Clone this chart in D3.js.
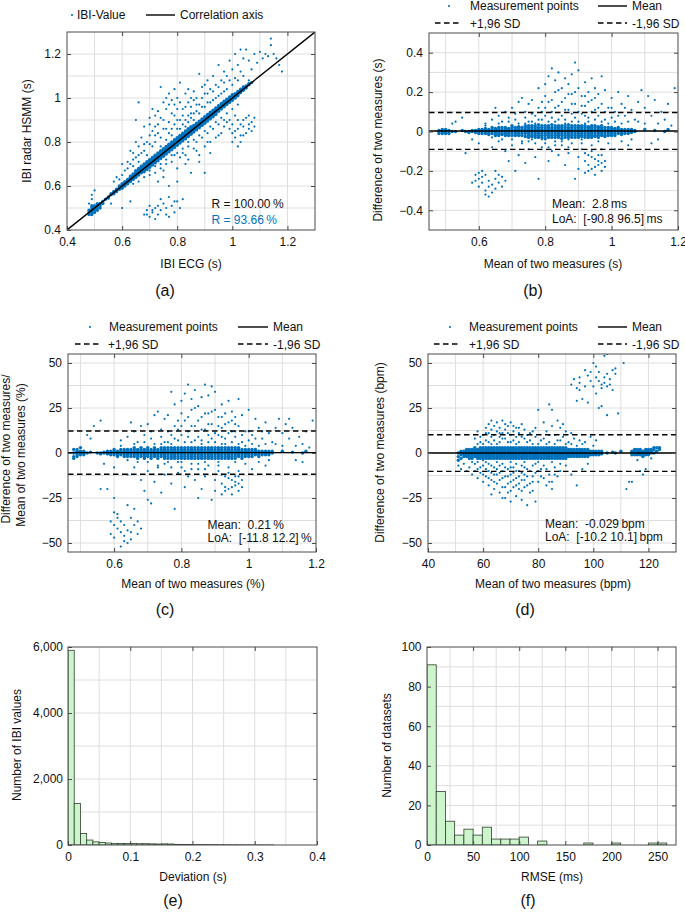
<!DOCTYPE html>
<html><head><meta charset="utf-8">
<script src="https://cdn.jsdelivr.net/npm/d3@7"></script>
<style>
body{margin:0;background:#fff}
svg{display:block;font-family:"Liberation Sans",Arial,sans-serif}
text{white-space:pre}
</style>
</head><body>
<script>
// ================= DATA =================
// (a) correlation plot: IBI ECG (x) vs IBI radar HSMM (y); core rows = [x, y1, y2, ...]
const aCore=[
[0.48,0.47,0.48,0.49],[0.49,0.48,0.49,0.50,0.47,0.51],[0.50,0.49,0.50,0.51,0.48],[0.51,0.50,0.51,0.49,0.52],[0.52,0.51,0.52,0.50],
[0.53,0.53,0.52],[0.54,0.54],[0.55,0.55,0.545],[0.56,0.56,0.565],[0.57,0.57,0.575,0.565],[0.58,0.58,0.585,0.575],
[0.59,0.59,0.595,0.585,0.60],[0.60,0.60,0.605,0.595,0.61,0.59],[0.61,0.61,0.615,0.605,0.62,0.60],[0.62,0.62,0.625,0.615,0.63,0.61],
[0.63,0.63,0.635,0.625,0.64,0.62,0.645],[0.64,0.64,0.645,0.635,0.65,0.63,0.655],[0.65,0.65,0.655,0.645,0.66,0.64,0.665,0.67],
[0.66,0.66,0.665,0.655,0.67,0.65,0.675,0.68],[0.67,0.67,0.675,0.665,0.68,0.66,0.685,0.69],[0.68,0.68,0.685,0.675,0.69,0.67,0.695,0.70,0.665],
[0.69,0.69,0.695,0.685,0.70,0.68,0.705,0.71,0.675],[0.70,0.70,0.705,0.695,0.71,0.69,0.715,0.72,0.685],[0.71,0.71,0.715,0.705,0.72,0.70,0.725,0.73,0.695],
[0.72,0.72,0.725,0.715,0.73,0.71,0.735,0.74,0.705],[0.73,0.73,0.735,0.725,0.74,0.72,0.745,0.75,0.715],[0.74,0.74,0.745,0.735,0.75,0.73,0.755,0.76,0.725],
[0.75,0.75,0.755,0.745,0.76,0.74,0.765,0.77,0.735],[0.76,0.76,0.765,0.755,0.77,0.75,0.775,0.78,0.745],[0.77,0.77,0.775,0.765,0.78,0.76,0.785,0.79,0.755],
[0.78,0.78,0.785,0.775,0.79,0.77,0.795,0.80,0.765],[0.79,0.79,0.795,0.785,0.80,0.78,0.805,0.81,0.775],[0.80,0.80,0.805,0.795,0.81,0.79,0.815,0.82,0.785],
[0.81,0.81,0.815,0.805,0.82,0.80,0.825,0.83,0.795],[0.82,0.82,0.825,0.815,0.83,0.81,0.835,0.805,0.84],[0.83,0.83,0.835,0.825,0.84,0.82,0.845,0.815,0.85],
[0.84,0.84,0.845,0.835,0.85,0.83,0.855,0.825,0.86],[0.85,0.85,0.855,0.845,0.86,0.84,0.865,0.835,0.87],[0.86,0.86,0.865,0.855,0.87,0.85,0.875,0.845],
[0.87,0.87,0.875,0.865,0.88,0.86,0.885,0.855],[0.88,0.88,0.885,0.875,0.89,0.87,0.895,0.865],[0.89,0.89,0.895,0.885,0.90,0.88,0.905,0.875],
[0.90,0.90,0.905,0.895,0.91,0.89,0.915,0.885],[0.91,0.91,0.915,0.905,0.92,0.90,0.925,0.895],[0.92,0.92,0.925,0.915,0.93,0.91,0.935,0.905],
[0.93,0.93,0.935,0.925,0.94,0.92,0.945,0.915],[0.94,0.94,0.945,0.935,0.95,0.93,0.955,0.925],[0.95,0.95,0.955,0.945,0.96,0.94,0.965],
[0.96,0.96,0.965,0.955,0.97,0.95,0.975],[0.97,0.97,0.975,0.965,0.98,0.96,0.985],[0.98,0.98,0.985,0.975,0.99,0.97,0.995],
[0.99,0.99,0.995,0.985,1.00,0.98,1.005],[1.00,1.00,1.005,0.995,1.01,0.99,1.015],[1.01,1.01,1.015,1.005,1.02,1.00],
[1.02,1.02,1.025,1.015,1.03,1.01],[1.03,1.03,1.035,1.025,1.04],[1.04,1.04,1.045,1.035,1.05],[1.05,1.05,1.055,1.045],[1.06,1.06,1.065],[1.07,1.07]];
const aSparse=[
[0.49,0.54],[0.49,0.56],[0.50,0.58],[0.48,0.52],[0.53,0.52],
[0.64,0.72],[0.62,0.71],[0.63,0.76],[0.65,0.80],[0.66,0.78],[0.64,0.69],[0.66,0.74],[0.67,0.82],[0.68,0.76],[0.69,0.80],[0.66,0.98],[0.65,0.90],
[0.70,0.88],[0.71,0.85],[0.72,0.92],[0.73,0.88],[0.74,1.05],[0.75,0.98],[0.75,0.90],[0.76,0.95],[0.77,1.02],[0.78,0.86],[0.78,0.93],[0.79,0.97],
[0.80,1.00],[0.80,0.90],[0.81,1.07],[0.82,0.95],[0.82,0.88],[0.83,1.02],[0.84,0.92],[0.84,0.98],[0.85,0.96],[0.86,1.03],[0.86,0.93],[0.87,1.00],
[0.88,1.11],[0.88,0.97],[0.89,1.05],[0.90,1.02],[0.91,1.08],[0.92,1.04],[0.93,1.10],[0.94,1.06],[0.95,1.15],[0.96,1.08],[0.97,1.12],[0.98,1.10],
[0.99,1.17],[1.00,1.13],[1.01,1.20],[1.02,1.15],[1.03,1.22],[1.04,1.18],[1.05,1.22],[1.06,1.17],[1.07,1.13],[1.08,1.20],[1.09,1.16],[1.10,1.21],
[1.11,1.18],[1.12,1.20],[1.14,1.27],[1.14,1.24],[1.15,1.20],[1.16,1.18],[1.17,1.15],[1.18,1.12],[1.13,1.19],[1.04,1.10],[1.06,1.08],
[0.70,0.79],[0.72,0.83],[0.74,0.82],[0.76,0.86],[0.77,0.84],[0.79,0.88],[0.81,0.86],[0.83,0.90],[0.85,0.91],[0.87,0.94],[0.89,0.96],[0.91,0.98],
[0.93,0.99],[0.95,1.01],[0.97,1.03],[0.73,0.94],[0.70,0.91],[0.68,0.87],[0.77,0.97],[0.79,1.04],[0.84,1.04],[0.86,0.99],[0.61,0.67],[0.60,0.65],
[0.58,0.64],[0.57,0.62],[0.56,0.52],[0.60,0.50],[0.63,0.53],
[0.62,0.68],[0.63,0.70],[0.65,0.73],[0.67,0.75],[0.68,0.79],[0.69,0.74],[0.70,0.83],[0.71,0.78],[0.71,0.95],[0.72,0.80],[0.72,0.87],[0.73,0.84],
[0.74,0.78],[0.74,0.91],[0.75,0.86],[0.76,0.81],[0.76,1.00],[0.77,0.89],[0.78,0.83],[0.78,0.99],[0.79,0.92],[0.80,0.86],[0.80,0.95],[0.81,0.90],
[0.81,0.98],[0.82,0.92],[0.83,0.87],[0.83,0.96],[0.84,0.89],[0.85,0.93],[0.85,1.00],[0.86,0.90],[0.87,0.97],[0.88,0.93],[0.89,1.00],[0.90,0.96],
[0.90,1.06],[0.91,1.02],[0.92,0.98],[0.93,1.03],[0.94,1.00],[0.95,1.05],[0.96,1.02],[0.97,1.07],[0.98,1.04],[0.99,1.08],[1.00,1.06],[1.01,1.09],
[1.02,1.08],[1.03,1.12],[0.64,0.75],[0.66,0.71],[0.60,0.70],[0.59,0.63],
[0.70,0.65],[0.72,0.66],[0.74,0.70],[0.75,0.67],[0.76,0.72],[0.78,0.71],[0.79,0.74],[0.80,0.68],[0.81,0.73],[0.82,0.75],[0.83,0.70],[0.84,0.78],
[0.85,0.66],[0.86,0.77],[0.87,0.80],[0.88,0.74],[0.89,0.82],[0.90,0.66],[0.90,0.78],[0.91,0.84],[0.92,0.80],[0.93,0.86],[0.94,0.82],[0.95,0.88],
[0.96,0.84],[0.97,0.90],[0.80,0.62],[0.77,0.60],[0.73,0.62],[0.84,0.72],[0.88,0.71],[0.92,0.75],
[0.72,0.69],[0.74,0.68],[0.76,0.70],[0.78,0.74],[0.80,0.75],[0.82,0.77],[0.84,0.80],[0.86,0.81],[0.88,0.83],[0.90,0.85],[0.92,0.87],[0.94,0.89],
[0.96,0.91],[0.98,0.93],[1.00,0.95],[1.02,0.97],[0.75,0.64],[0.83,0.74],[0.87,0.76],[0.91,0.80],[0.95,0.83],[0.97,0.87],[0.66,0.62],[0.68,0.64],
[0.70,0.67],[0.64,0.61],
[0.99,0.86],[1.00,0.88],[1.01,0.85],[1.02,0.90],[1.03,0.83],[1.04,0.87],[1.05,0.91],[1.06,0.86],[1.07,0.89],[1.08,0.87],[1.03,0.80],[1.01,0.92],
[1.05,0.84],[0.98,0.89],[1.00,0.80],[1.06,0.92],[1.02,0.78],[1.00,0.84],[1.02,0.86],[1.04,0.83],[1.04,0.90],[1.06,0.88],[1.07,0.85],[1.08,0.91],
[1.03,0.88],[0.99,0.90],[1.01,0.82],
[0.68,0.47],[0.69,0.49],[0.70,0.46],[0.71,0.48],[0.72,0.50],[0.73,0.47],[0.74,0.49],[0.72,0.45],[0.75,0.52],[0.76,0.50],[0.77,0.55],[0.78,0.51],
[0.79,0.48],[0.80,0.53],[0.81,0.50],[0.70,0.51],[0.74,0.54],[0.77,0.46],[0.71,0.49],[0.73,0.51],[0.69,0.47],[0.82,0.54],[0.79,0.53],[0.76,0.47]];
const aCorrAxis=[0.4,1.3];
const aR=["R = 100.00\u2009%","R = 93.66\u2009%"];

// (b) Bland-Altman in seconds
const bCore=[
[0.48,0,-0.01,0.005],[0.49,0,-0.01,0.01],[0.50,0,-0.005,0.01,-0.01],[0.51,0,0.005,-0.01],[0.52,0],[0.53,0],[0.55,0.005],[0.56,0],
[0.57,0,-0.005],[0.58,0,0.005],[0.59,0,-0.005,0.005],[0.60,0,-0.01,0.01],[0.61,0,0.01,-0.01],[0.62,0,0.01,-0.01,0.015],[0.63,0,0.01,-0.01,-0.015],
[0.64,0,0.01,-0.01,0.02],[0.65,0,0.01,-0.01,0.015,-0.02],[0.66,0,0.01,-0.01,0.02,-0.02],[0.67,0,0.01,-0.01,0.02,-0.015],[0.68,0,0.01,-0.01,0.02,-0.02],
[0.69,0,0.01,-0.01,0.015,-0.02],[0.70,0,0.01,-0.01,0.02,-0.02,0.03],[0.71,0,0.01,-0.01,0.02,-0.02],[0.72,0,0.01,-0.01,0.02,-0.02,0.025],
[0.73,0,0.01,-0.01,0.02,-0.02],[0.74,0,0.01,-0.01,0.02,-0.025,0.03],[0.75,0,0.01,-0.01,0.02,-0.02,0.03,-0.03],[0.76,0,0.01,-0.01,0.02,-0.02,0.03,-0.025],
[0.77,0,0.01,-0.01,0.02,-0.02,0.03,-0.03],[0.78,0,0.01,-0.01,0.02,-0.02,0.035,-0.03],[0.79,0,0.01,-0.01,0.02,-0.02,0.03,-0.03],
[0.80,0,0.01,-0.01,0.02,-0.02,0.03,-0.035],[0.81,0,0.01,-0.01,0.02,-0.02,0.03,-0.03],[0.82,0,0.01,-0.01,0.02,-0.02,0.035,-0.03],
[0.83,0,0.01,-0.01,0.02,-0.02,0.03,-0.03],[0.84,0,0.01,-0.01,0.02,-0.02,0.03,-0.03],[0.85,0,0.01,-0.01,0.02,-0.02,0.03,-0.035],
[0.86,0,0.01,-0.01,0.02,-0.02,0.03,-0.03],[0.87,0,0.01,-0.01,0.02,-0.02,0.035,-0.03],[0.88,0,0.01,-0.01,0.02,-0.02,0.03,-0.03],
[0.89,0,0.01,-0.01,0.02,-0.02,0.03,-0.03],[0.90,0,0.01,-0.01,0.02,-0.02,0.03,-0.03],[0.91,0,0.01,-0.01,0.02,-0.02,0.03,-0.025],
[0.92,0,0.01,-0.01,0.02,-0.02,0.03,-0.03],[0.93,0,0.01,-0.01,0.02,-0.02,0.025,-0.03],[0.94,0,0.01,-0.01,0.02,-0.02,0.03,-0.03],
[0.95,0,0.01,-0.01,0.02,-0.02,0.03,-0.025],[0.96,0,0.01,-0.01,0.02,-0.02,0.025,-0.03],[0.97,0,0.01,-0.01,0.02,-0.02,0.03],
[0.98,0,0.01,-0.01,0.02,-0.02,-0.025],[0.99,0,0.01,-0.01,0.02,-0.02],[1.00,0,0.01,-0.01,0.02,-0.02],[1.01,0,0.01,-0.01,0.015,-0.02],
[1.02,0,0.01,-0.01,0.02],[1.03,0,0.01,-0.01,-0.015],[1.04,0,0.01,-0.01],[1.05,0,0.01,-0.01],[1.06,0,0.01,-0.005],[1.07,0,0.005],
[1.10,0.01],[1.13,0.005],[1.16,0],[1.17,0.01]];
const bSparse=[
[0.53,0.05],[0.52,0.04],[0.55,0.07],[0.62,0.04],[0.64,0.06],[0.65,0.12],[0.66,0.08],[0.67,0.05],[0.68,0.10],[0.69,0.07],[0.70,0.12],[0.71,0.06],
[0.72,0.15],[0.73,0.17],[0.74,0.10],[0.75,0.14],[0.76,0.16],[0.77,0.08],[0.78,0.12],[0.79,0.06],[0.80,0.18],[0.80,0.24],[0.81,0.15],[0.81,0.28],
[0.82,0.32],[0.82,0.10],[0.83,0.20],[0.83,0.26],[0.84,0.13],[0.84,0.30],[0.85,0.22],[0.85,0.08],[0.86,0.17],[0.86,0.27],[0.87,0.11],[0.87,0.24],
[0.88,0.19],[0.88,0.29],[0.89,0.35],[0.89,0.14],[0.90,0.22],[0.90,0.31],[0.91,0.09],[0.91,0.18],[0.92,0.25],[0.92,0.13],[0.93,0.20],[0.93,0.07],
[0.94,0.27],[0.94,0.16],[0.95,0.11],[0.95,0.22],[0.96,0.19],[0.96,0.08],[0.97,0.14],[0.98,0.21],[0.98,0.06],[0.99,0.12],[1.00,0.17],[1.00,0.07],
[1.01,0.10],[1.02,0.20],[1.03,0.14],[1.04,0.08],[1.05,0.18],[1.06,0.11],[1.07,0.06],[1.08,0.15],[1.09,0.21],[1.10,0.12],[1.11,0.18],[1.12,0.08],
[1.13,0.16],[1.14,0.04],[1.15,0.10],[1.16,0.06],[1.18,0.03],[1.19,0.22],[1.17,0.14],[0.78,0.22],[0.79,0.15],[0.76,0.05],[0.74,0.04],[0.88,0.05],
[0.92,0.04],[0.97,0.28],[0.83,0.05],[0.86,0.04],
[0.62,0.03],[0.64,-0.03],[0.66,0.04],[0.67,-0.04],[0.69,0.05],[0.70,-0.04],[0.71,0.09],[0.72,0.04],[0.73,-0.06],[0.74,0.07],[0.75,0.05],
[0.75,-0.05],[0.76,0.09],[0.77,0.04],[0.77,-0.06],[0.78,0.06],[0.79,0.10],[0.79,-0.04],[0.80,0.08],[0.80,0.12],[0.81,0.05],[0.81,-0.08],
[0.82,0.07],[0.82,0.16],[0.83,0.12],[0.83,-0.07],[0.84,0.06],[0.84,0.21],[0.85,0.15],[0.85,-0.05],[0.86,0.11],[0.86,0.06],[0.87,0.19],
[0.87,-0.08],[0.88,0.09],[0.88,0.14],[0.89,0.07],[0.89,0.20],[0.90,0.05],[0.90,0.10],[0.91,0.13],[0.91,-0.06],[0.92,0.08],[0.92,0.18],
[0.93,0.05],[0.93,0.15],[0.94,0.10],[0.94,-0.07],[0.95,0.06],[0.95,0.17],[0.96,0.12],[0.96,-0.05],[0.97,0.05],[0.98,0.10],[0.99,0.04],
[1.00,0.12],[1.01,0.05],[1.02,0.08],[1.03,0.04],[1.04,0.12],[1.05,0.05],[1.06,-0.04],[1.08,0.05],[1.10,0.04],
[0.56,-0.11],[0.58,-0.04],[0.60,-0.06],[0.64,-0.08],[0.66,-0.05],[0.68,-0.10],[0.69,-0.15],[0.70,-0.07],[0.71,-0.20],[0.72,-0.12],[0.73,-0.05],
[0.74,-0.16],[0.75,-0.09],[0.76,-0.04],[0.77,-0.13],[0.78,-0.24],[0.79,-0.08],[0.80,-0.06],[0.81,-0.15],[0.82,-0.10],[0.83,-0.05],[0.84,-0.12],
[0.85,-0.07],[0.86,-0.17],[0.87,-0.11],[0.88,-0.06],[0.89,-0.24],[0.90,-0.13],[0.90,-0.19],[0.91,-0.09],[0.92,-0.15],[0.92,-0.21],[0.93,-0.12],
[0.93,-0.17],[0.94,-0.10],[0.94,-0.19],[0.95,-0.14],[0.95,-0.22],[0.96,-0.12],[0.96,-0.17],[0.97,-0.20],[0.97,-0.09],[0.98,-0.15],[0.99,-0.06],
[1.01,-0.09],[1.03,-0.05],[1.05,-0.07],[1.12,-0.06],[1.14,-0.04],[0.87,-0.04],[0.80,-0.04],[0.91,-0.04],
[0.94,-0.13],[0.95,-0.18],[0.96,-0.15],[0.97,-0.12],[0.98,-0.18],[0.93,-0.20],[0.92,-0.11],[0.97,-0.16],
[0.58,-0.26],[0.59,-0.22],[0.59,-0.25],[0.60,-0.21],[0.60,-0.24],[0.60,-0.28],[0.61,-0.23],[0.61,-0.26],[0.62,-0.22],[0.62,-0.30],[0.63,-0.25],
[0.63,-0.28],[0.62,-0.32],[0.64,-0.27],[0.64,-0.31],[0.65,-0.24],[0.65,-0.29],[0.66,-0.22],[0.66,-0.26],[0.67,-0.28],[0.68,-0.25],[0.65,-0.20],
[0.61,-0.20],[0.63,-0.33],[0.67,-0.23]];
const bStats={mean:0.0028,lo:-0.0908,hi:0.0965};
const bText=["Mean:  2.8\u2009ms","LoA:  [-90.8 96.5]\u2009ms"];

// (c) Bland-Altman in percent
const cCore=[
[0.48,0,-2,2,-3],[0.49,0,1,-1,-2,2],[0.50,0,1,-1,3],[0.51,0,-1,1],[0.52,0],[0.53,0.5],[0.55,0],[0.56,0,-0.5],[0.57,0,0.5],[0.58,0,-0.5,1],
[0.59,0,1,-1],[0.60,0,1,-1,2],[0.61,0,1,-1,-2],[0.62,0,1,-1,2],[0.63,0,1,-1,2,-2],[0.64,0,1,-1,2,-2],[0.65,0,1,-1,2,-2],
[0.66,0,1,-1,2,-2,3],[0.67,0,1,-1,2,-2,-3],[0.68,0,1,-1,2,-2,3],[0.69,0,1,-1,2,-2,-3],[0.70,0,1,-1,2,-2,3],[0.71,0,1,-1,2,-2,-3],
[0.72,0,1,-1,2,-2,3],[0.73,0,1,-1,2,-2,-3],[0.74,0,1,-1,2,-2,3],[0.75,0,1,-1,2,-2,3,-3],[0.76,0,1,-1,2,-2,3,-3],[0.77,0,1,-1,2,-2,3,-3],
[0.78,0,1,-1,2,-2,3,-3],[0.79,0,1,-1,2,-2,3,-3],[0.80,0,1,-1,2,-2,3,-3],[0.81,0,1,-1,2,-2,3,-3],[0.82,0,1,-1,2,-2,3,-3],[0.83,0,1,-1,2,-2,3,-3],
[0.84,0,1,-1,2,-2,3,-3],[0.85,0,1,-1,2,-2,3,-3],[0.86,0,1,-1,2,-2,3,-3],[0.87,0,1,-1,2,-2,3,-3],[0.88,0,1,-1,2,-2,3,-3],[0.89,0,1,-1,2,-2,3,-3],
[0.90,0,1,-1,2,-2,3,-3],[0.91,0,1,-1,2,-2,3,-3],[0.92,0,1,-1,2,-2,3,-3],[0.93,0,1,-1,2,-2,3,-3],[0.94,0,1,-1,2,-2,3,-3],[0.95,0,1,-1,2,-2,3,-3],
[0.96,0,1,-1,2,-2,3,-3],[0.97,0,1,-1,2,-2,3],[0.98,0,1,-1,2,-2,-3],[0.99,0,1,-1,2,-2],[1.00,0,1,-1,2,-2],[1.01,0,1,-1,2,-2],[1.02,0,1,-1,2],
[1.03,0,1,-1,-2],[1.04,0,1,-1],[1.05,0,1,-1],[1.06,0,1,-1],[1.07,0,1],[1.10,1],[1.13,0.5],[1.16,0],[1.17,1]];
const cSparse=[
[0.53,8],[0.52,10],[0.54,15],[0.56,18],[0.62,7],[0.64,9],[0.65,17],[0.66,12],[0.67,6],[0.68,15],[0.69,10],[0.70,16],[0.71,8],[0.72,21],[0.73,23],
[0.74,13],[0.75,19],[0.76,21],[0.77,34],[0.77,10],[0.78,15],[0.79,7],[0.80,22],[0.80,29],[0.81,18],[0.81,33],[0.82,38],[0.82,12],[0.83,24],
[0.83,30],[0.84,15],[0.84,35],[0.85,26],[0.85,9],[0.86,20],[0.86,31],[0.87,13],[0.87,38],[0.88,22],[0.88,32],[0.89,37],[0.89,16],[0.90,24],
[0.90,34],[0.91,10],[0.91,20],[0.92,27],[0.92,14],[0.93,22],[0.93,8],[0.94,29],[0.94,17],[0.95,12],[0.95,23],[0.96,20],[0.96,9],[0.97,15],
[0.98,21],[0.98,6],[0.99,12],[1.00,24],[1.00,7],[1.01,10],[1.02,19],[1.03,14],[1.04,8],[1.05,17],[1.06,11],[1.07,6],[1.08,14],[1.09,19],
[1.10,11],[1.11,16],[1.12,8],[1.13,14],[1.14,4],[1.15,9],[1.16,5],[1.18,3],[1.19,18],[1.17,12],[0.78,27],[0.79,18],[0.76,6],[0.74,5],[0.88,6],
[0.92,5],[0.97,30],[0.83,6],[0.86,5],[1.12,19],[0.96,16],
[0.62,4],[0.64,-4],[0.66,5],[0.67,-5],[0.69,6],[0.70,-5],[0.71,12],[0.72,5],[0.73,-8],[0.74,9],[0.75,6],[0.75,-6],[0.76,12],[0.77,5],[0.77,-8],
[0.78,8],[0.79,13],[0.79,-5],[0.80,10],[0.80,15],[0.81,6],[0.81,-10],[0.82,9],[0.82,20],[0.83,15],[0.83,-9],[0.84,7],[0.84,25],[0.85,18],
[0.85,-6],[0.86,13],[0.86,7],[0.87,22],[0.87,-9],[0.88,10],[0.88,16],[0.89,8],[0.89,23],[0.90,6],[0.90,11],[0.91,15],[0.91,-7],[0.92,9],
[0.92,20],[0.93,5],[0.93,16],[0.94,11],[0.94,-8],[0.95,6],[0.95,18],[0.96,12],[0.96,-5],[0.97,5],[0.98,10],[0.99,4],[1.00,12],[1.01,5],
[1.02,8],[1.03,4],[1.04,12],[1.05,5],[1.06,-4],[1.08,5],[1.10,4],
[0.56,-20],[0.58,-20],[0.57,-6],[0.60,-8],[0.64,-12],[0.66,-8],[0.68,-15],[0.69,-21],[0.70,-26],[0.70,-10],[0.71,-28],[0.72,-16],[0.73,-7],
[0.74,-22],[0.75,-12],[0.76,-5],[0.77,-17],[0.78,-31],[0.79,-11],[0.80,-8],[0.81,-19],[0.82,-13],[0.83,-6],[0.84,-15],[0.85,-25],[0.85,-9],
[0.86,-20],[0.87,-13],[0.88,-7],[0.89,-26],[0.90,-15],[0.90,-21],[0.91,-10],[0.92,-17],[0.92,-23],[0.93,-13],[0.93,-19],[0.94,-11],[0.94,-20],
[0.95,-15],[0.95,-23],[0.96,-13],[0.96,-18],[0.97,-21],[0.97,-10],[0.98,-15],[0.99,-6],[1.01,-9],[1.03,-5],[1.05,-7],[1.16,-5],[1.14,-4],
[0.87,-5],[0.80,-5],[0.91,-5],
[0.94,-14],[0.95,-19],[0.96,-16],[0.97,-13],[0.98,-19],[0.93,-21],[0.92,-12],[0.97,-17],
[0.59,-45],[0.59,-38],[0.60,-33],[0.60,-40],[0.60,-47],[0.61,-36],[0.61,-42],[0.62,-38],[0.62,-44],[0.62,-52],[0.63,-40],[0.63,-46],[0.63,-49],
[0.64,-29],[0.64,-43],[0.64,-50],[0.65,-36],[0.65,-44],[0.66,-31],[0.66,-40],[0.67,-38],[0.67,-45],[0.68,-42],[0.61,-34],[0.65,-48],[0.60,-25]];
const cStats={mean:0.21,lo:-11.8,hi:12.2};
const cText=["Mean:  0.21\u2009%","LoA:  [-11.8 12.2]\u2009%"];

// (d) Bland-Altman in bpm
const dCore=[
[51,0,-2,-4],[52,0,1,-1,-3],[53,0,1,-1,-2],[54,0,1,-1,-2,2],[55,0,1,-1,2,-2,-3],[56,0,1,-1,2,-2,-3],[57,0,1,-1,2,-2,3],[58,0,1,-1,2,-2,-3],
[59,0,1,-1,2,-2,3,-3],[60,0,1,-1,2,-2,3,-3],[61,0,1,-1,2,-2,3,-3],[62,0,1,-1,2,-2,3,-3],[63,0,1,-1,2,-2,3,-3],[64,0,1,-1,2,-2,3,-3],
[65,0,1,-1,2,-2,3,-3],[66,0,1,-1,2,-2,3,-3],[67,0,1,-1,2,-2,3,-3],[68,0,1,-1,2,-2,3,-3],[69,0,1,-1,2,-2,3,-3],[70,0,1,-1,2,-2,3,-3],
[71,0,1,-1,2,-2,3,-3],[72,0,1,-1,2,-2,3,-3],[73,0,1,-1,2,-2,3,-3],[74,0,1,-1,2,-2,3,-3],[75,0,1,-1,2,-2,3,-3],[76,0,1,-1,2,-2,3,-3],
[77,0,1,-1,2,-2,3,-3],[78,0,1,-1,2,-2,3,-3],[79,0,1,-1,2,-2,3,-3],[80,0,1,-1,2,-2,3,-3],[81,0,1,-1,2,-2,3,-3],[82,0,1,-1,2,-2,3,-3],
[83,0,1,-1,2,-2,3,-3],[84,0,1,-1,2,-2,3,-3],[85,0,1,-1,2,-2,3,-3],[86,0,1,-1,2,-2,3,-3],[87,0,1,-1,2,-2,3,-3],[88,0,1,-1,2,-2,3,-3],
[89,0,1,-1,2,-2,3,-3],[90,0,1,-1,2,-2,3,-3],[91,0,1,-1,2,-2],[92,0,1,-1,2,-2],[93,0,1,-1,2,-2],[94,0,1,-1,2,-2],[95,0,1,-1,2,-2],
[96,0,1,-1,2,-2],[97,0,1,-1,2,-2],[98,0,1,-1,2,-2],[99,0,1,-1],[100,0,1,-1],[101,0,1,-1],[102,0,1,-1],[103,0,1,-0.5],
[105,0],[107,0.5],[108,0],[110,1],[114,0,1,-1],[115,0,1,-1,2],[116,0,1,-1,2],[117,0,1,-1,2],[118,0,1,-1,-2],[119,0,1,-1,2],
[120,0,1,-1,2],[121,0,1,2],[122,0,2,3],[123,1,3],[124,2,3]];
const dSparse=[
[57,8],[58,12],[59,6],[60,10],[61,14],[61,7],[62,16],[62,11],[63,5],[63,13],[63,9],[64,15],[64,7],[65,12],[65,17],[66,9],[66,14],[66,6],[67,11],
[67,18],[68,8],[68,13],[69,15],[69,6],[70,10],[70,17],[71,12],[71,7],[72,9],[72,14],[73,6],[73,11],[74,16],[75,8],[75,13],[76,10],[77,7],[78,12],
[79,9],[80,5],
[58,5],[59,9],[60,5],[61,11],[62,6],[63,18],[64,10],[65,5],[66,11],[67,8],[68,16],[69,11],[70,6],[71,15],[72,5],[73,14],[74,9],[76,6],[77,11],
[78,5],[79,14],[81,7],[82,17],[83,5],[84,10],[86,5],[88,7],[90,5],[92,5],[94,4],[96,5],
[80,24],[82,8],[83,12],[84,27],[84,6],[85,24],[85,15],[86,10],[87,18],[87,7],[88,14],[89,9],[89,16],[90,12],[91,6],[92,11],[93,8],[95,7],[97,6],
[99,9],[101,7],[100,4],
[92,38],[93,41],[94,36],[94,29],[95,42],[95,35],[96,30],[97,46],[97,37],[98,43],[98,28],[99,45],[99,40],[100,50],[100,37],[101,48],[101,42],
[101,33],[102,40],[102,45],[103,38],[103,36],[104,42],[104,39],[104,54],[105,44],[105,37],[105,55],[106,41],[106,38],[107,46],[107,35],[108,47],
[108,44],[109,22],[103,26],[105,21],[111,50],[102,25],[95,39],
[51,-7],[52,-9],[53,-6],[54,-10],[55,-8],[56,-12],[57,-6],[58,-14],[58,-9],[59,-11],[60,-7],[60,-16],[61,-13],[61,-9],[62,-18],[62,-6],[63,-11],
[63,-15],[64,-8],[64,-20],[65,-12],[65,-17],[66,-7],[66,-22],[67,-10],[67,-14],[68,-19],[68,-25],[69,-9],[69,-13],[70,-16],[70,-21],[70,-27],
[71,-8],[71,-11],[72,-14],[72,-18],[72,-24],[73,-10],[73,-20],[74,-7],[74,-15],[74,-26],[75,-12],[75,-19],[76,-29],[76,-9],[77,-17],[77,-22],
[78,-13],[78,-7],[79,-27],[79,-11],[80,-16],[81,-9],[82,-14],[83,-18],[84,-12],[85,-16],[85,-20],[86,-8],[87,-13],[88,-10],[90,-7],[92,-12],
[94,-18],[96,-9],[98,-6],[60,-4],[65,-5],[70,-5],[75,-5],[80,-5],[85,-5],[63,-23],[67,-25],
[56,-5],[57,-10],[58,-5],[59,-8],[60,-12],[61,-5],[62,-10],[62,-14],[63,-7],[64,-12],[64,-16],[65,-9],[66,-11],[66,-15],[67,-6],[67,-19],
[68,-8],[68,-13],[69,-17],[69,-22],[70,-8],[70,-12],[71,-15],[71,-19],[72,-6],[72,-10],[73,-13],[73,-17],[74,-11],[74,-21],[75,-8],[75,-15],
[76,-13],[76,-18],[77,-10],[78,-16],[78,-21],[79,-6],[80,-10],[81,-13],[82,-7],[83,-9],[84,-16],[86,-12],[88,-6],
[112,-20],[113,-16],[114,-16],[117,-10],[118,-12],[119,-9],[116,-4],[121,-3]];
const dStats={mean:-0.029,lo:-10.2,hi:10.1};
const dText=["Mean:  -0.029\u2009bpm","LoA:  [-10.2 10.1]\u2009bpm"];

// (e) histogram of deviation (s), bin width 0.01
const eBinWidth=0.01;
const eCounts=[5900,1260,350,150,95,75,60,50,45,45,45,40,40,35,30,35,30,20,15,15,12,12,10,10,8,6,5,4,3,2,2,1,1];
// (f) histogram of RMSE (ms), bin width 10
const fBinWidth=10;
const fCounts=[91,27,12,5,8,5,9,3,3,3,4,0,2,0,0,0,0,1,0,0,1,0,0,0,1,1];

// tick labels
const abTicks=[0.4,0.6,0.8,1.0,1.2];
const bcXTicks=[0.6,0.8,1.0,1.2];
const bYTicks=[-0.4,-0.2,0,0.2,0.4];
const cdYTicks=[-50,-25,0,25,50];
const dXTicks=[40,60,80,100,120];
const eXTicks=[0,0.1,0.2,0.3,0.4];
const eYTicks=[0,2000,4000,6000];
const fXTicks=[0,50,100,150,200,250];
const fYTicks=[0,20,40,60,80,100];

// ================= DRAW =================
const BLUE="#0072BD", GRID="#dedede", FRAME="#4a4a4a", TXT="#111";
const svg=d3.select("body").append("svg").attr("width",685).attr("height",913);
const defs=svg.append("defs");

function rangeStep(a,b,s){const r=[];for(let v=a;v<=b+1e-9;v+=s)r.push(+v.toFixed(4));return r;}
const num=d=>(d<0?"\u2212":"")+String(+Math.abs(d).toFixed(3));

function panel(c){
  const x=d3.scaleLinear().domain(c.xd).range([c.l,c.r]);
  const y=d3.scaleLinear().domain(c.yd).range([c.b,c.t]);
  const g=svg.append("g");
  defs.append("clipPath").attr("id","clip"+c.id).append("rect")
    .attr("x",c.l).attr("y",c.t).attr("width",c.r-c.l).attr("height",c.b-c.t);
  const grid=g.append("g").attr("stroke",GRID).attr("stroke-width",1);
  grid.selectAll(".gx").data(c.xg.filter(v=>v>c.xd[0]&&v<c.xd[1])).join("line")
    .attr("x1",d=>x(d)).attr("x2",d=>x(d)).attr("y1",c.t).attr("y2",c.b);
  grid.selectAll(".gy").data(c.yg.filter(v=>v>c.yd[0]&&v<c.yd[1])).join("line")
    .attr("y1",d=>y(d)).attr("y2",d=>y(d)).attr("x1",c.l).attr("x2",c.r);
  const plot=g.append("g").attr("clip-path",`url(#clip${c.id})`);
  return {x,y,g,plot,c};
}
function finish(p){
  const {x,y,g,c}=p;
  const style=s=>{s.select(".domain").remove();s.attr("font-size",12).attr("font-family",null).attr("color",TXT);
    s.selectAll(".tick line").attr("stroke",FRAME);};
  g.append("g").attr("transform",`translate(0,${c.b})`)
    .call(d3.axisBottom(x).tickValues(c.xt).tickFormat(c.xf||num).tickSizeInner(-4).tickSizeOuter(0).tickPadding(c.xpad||7.5)).call(style);
  g.append("g").attr("transform",`translate(0,${c.t})`)
    .call(d3.axisTop(x).tickValues(c.xt.filter(v=>v>c.xd[0]&&v<c.xd[1])).tickFormat("").tickSizeInner(-4).tickSizeOuter(0)).call(style);
  g.append("g").attr("transform",`translate(${c.l},0)`)
    .call(d3.axisLeft(y).tickValues(c.yt).tickFormat(c.yf||num).tickSizeInner(-4).tickSizeOuter(0).tickPadding(c.ypad||6)).call(style);
  g.append("g").attr("transform",`translate(${c.r},0)`)
    .call(d3.axisRight(y).tickValues(c.yt.filter(v=>v>c.yd[0]&&v<c.yd[1])).tickFormat("").tickSizeInner(-4).tickSizeOuter(0)).call(style);
  g.append("rect").attr("x",c.l).attr("y",c.t).attr("width",c.r-c.l).attr("height",c.b-c.t)
    .attr("fill","none").attr("stroke",FRAME).attr("stroke-width",1);
  g.append("text").attr("x",c.xlx).attr("y",c.xly).attr("text-anchor","middle").attr("font-size",12).attr("fill",TXT).text(c.xl);
  c.yl.forEach((t,i)=>{
    g.append("text").attr("transform",`translate(${c.ylx[i]},${c.yly[i]}) rotate(-90)`).attr("text-anchor","middle")
      .attr("font-size",12).attr("fill",TXT).text(t);
  });
  g.append("text").attr("x",c.capx).attr("y",c.capy).attr("text-anchor","middle").attr("font-size",16).attr("fill",TXT).text(c.cap);
}
const expand=rows=>rows.flatMap(r=>r.slice(1).map(v=>[r[0],v]));
function dots(p,data,r){
  p.plot.append("g").attr("fill",BLUE).selectAll("circle").data(data).join("circle")
    .attr("cx",d=>p.x(d[0])).attr("cy",d=>p.y(d[1])).attr("r",r||1.1);
}
function hline(p,v,dash){
  p.plot.append("line").attr("x1",p.c.l).attr("x2",p.c.r).attr("y1",p.y(v)).attr("y2",p.y(v))
    .attr("stroke","#000").attr("stroke-width",1.4).attr("stroke-dasharray",dash?"5.5,3.5":null);
}
function legendDot(x,y){svg.append("circle").attr("cx",x).attr("cy",y).attr("r",1.1).attr("fill",BLUE);}
function legendLine(x1,x2,y,dash){svg.append("line").attr("x1",x1).attr("x2",x2).attr("y1",y).attr("y2",y)
  .attr("stroke","#000").attr("stroke-width",1.4).attr("stroke-dasharray",dash?"5.5,3.5":null);}
function label(x,y,t,col,anchor){svg.append("text").attr("x",x).attr("y",y).attr("font-size",12).attr("fill",col||TXT)
  .attr("text-anchor",anchor||"start").text(t);}
const CORE_R=1.7;

// ---------- (a) ----------
{
  const p=panel({id:"a",l:67,r:315,t:32,b:230,xd:[0.4,1.3],yd:[0.4,1.3],
    xg:rangeStep(0.4,1.3,0.1),yg:rangeStep(0.4,1.3,0.1)});
  dots(p,aSparse); dots(p,expand(aCore),CORE_R);
  p.plot.append("line").attr("x1",p.x(aCorrAxis[0])).attr("y1",p.y(aCorrAxis[0])).attr("x2",p.x(aCorrAxis[1])).attr("y2",p.y(aCorrAxis[1]))
    .attr("stroke","#000").attr("stroke-width",1.4);
  Object.assign(p.c,{xt:abTicks,yt:abTicks,xl:"IBI ECG (s)",xlx:191,xly:267.5,
    yl:["IBI radar HSMM (s)"],ylx:[31],yly:[131],cap:"(a)",capx:165,capy:295.5});
  finish(p);
  label(211.5,207.5,aR[0]); label(211.5,223.5,aR[1],BLUE);
  legendDot(72,15); label(77,19,"IBI-Value");
  legendLine(146,175,15); label(180,19,"Correlation axis");
}
// ---------- (b) ----------
{
  const p=panel({id:"b",l:429,r:678,t:33,b:230,xd:[0.45,1.2],yd:[-0.5,0.5],
    xg:rangeStep(0.5,1.2,0.1),yg:rangeStep(-0.5,0.5,0.1)});
  dots(p,bSparse); dots(p,expand(bCore),CORE_R);
  hline(p,bStats.mean,false); hline(p,bStats.hi,true); hline(p,bStats.lo,true);
  Object.assign(p.c,{xt:bcXTicks,yt:bYTicks,xl:"Mean of two measures (s)",xlx:553,xly:267.5,
    yl:["Difference of two measures (s)"],ylx:[382],yly:[140],cap:"(b)",capx:533,capy:295.5});
  finish(p);
  label(552,207.5,bText[0]); label(552,222.5,bText[1]);
  legendDot(449,6); label(470,10,"Measurement points"); legendLine(598,627,6); label(632,10,"Mean");
  legendLine(435,462,23,true); label(470,27.5,"+1,96 SD"); legendLine(598,627,23,true); label(632,27.5,"-1,96 SD");
}
// ---------- (c) ----------
{
  const p=panel({id:"c",l:68,r:316,t:354,b:552,xd:[0.463,1.2],yd:[-55,55],
    xg:rangeStep(0.5,1.2,0.1),yg:rangeStep(-50,50,12.5)});
  dots(p,cSparse); dots(p,expand(cCore),CORE_R);
  hline(p,cStats.mean,false); hline(p,cStats.hi,true); hline(p,cStats.lo,true);
  Object.assign(p.c,{xt:bcXTicks,yt:cdYTicks,xl:"Mean of two measures (%)",xlx:193,xly:587.5,
    yl:["Difference of two measures/","Mean of two measures (%)"],ylx:[9.5,24.5],yly:[449,455],cap:"(c)",capx:165,capy:615});
  finish(p);
  label(207.5,528.5,cText[0]); label(207.5,541.5,cText[1]);
  legendDot(90,327); label(109,331,"Measurement points"); legendLine(238,268,327); label(273,331,"Mean");
  legendLine(75,101,344,true); label(108,348.5,"+1,96 SD"); legendLine(238,268,344,true); label(273,348.5,"-1,96 SD");
}
// ---------- (d) ----------
{
  const p=panel({id:"d",l:428,r:676,t:354,b:552,xd:[40,130],yd:[-55,55],
    xg:rangeStep(40,130,10),yg:rangeStep(-50,50,12.5)});
  dots(p,dSparse); dots(p,expand(dCore),CORE_R);
  hline(p,dStats.mean,false); hline(p,dStats.hi,true); hline(p,dStats.lo,true);
  Object.assign(p.c,{xt:dXTicks,yt:cdYTicks,xl:"Mean of two measures (bpm)",xlx:553,xly:587.5,
    yl:["Difference of two measures (bpm)"],ylx:[383.5],yly:[452.5],cap:"(d)",capx:525,capy:615});
  finish(p);
  label(545,528,dText[0]); label(545,541,dText[1]);
  legendDot(450,327); label(469,331,"Measurement points"); legendLine(598,627,327); label(632,331,"Mean");
  legendLine(434,461,344,true); label(469,348.5,"+1,96 SD"); legendLine(598,627,344,true); label(632,348.5,"-1,96 SD");
}
// ---------- histograms ----------
function hist(p,counts,w){
  const bins=counts.map((n,i)=>({x0:i*w,x1:(i+1)*w,n})).filter(d=>d.n>0);
  p.plot.append("g").selectAll("rect").data(bins).join("rect")
    .attr("x",d=>p.x(d.x0)).attr("width",d=>p.x(d.x1)-p.x(d.x0))
    .attr("y",d=>p.y(d.n)).attr("height",d=>p.y(0)-p.y(d.n))
    .attr("fill","#ccf5cc").attr("stroke","#2f3f2f").attr("stroke-width",0.8);
}
{
  const p=panel({id:"e",l:68,r:317,t:647,b:845,xd:[0,0.4],yd:[0,6000],
    xg:rangeStep(0,0.4,0.05),yg:rangeStep(0,6000,1000)});
  hist(p,eCounts,eBinWidth);
  Object.assign(p.c,{xt:eXTicks,yt:eYTicks,yf:d3.format(","),ypad:5,xl:"Deviation (s)",xlx:193,xly:881,
    yl:["Number of IBI values"],ylx:[21],yly:[745],cap:"(e)",capx:173,capy:906});
  finish(p);
}
{
  const p=panel({id:"f",l:427,r:676,t:647,b:845,xd:[0,270],yd:[0,100],
    xg:rangeStep(0,270,25),yg:rangeStep(0,100,10)});
  hist(p,fCounts,fBinWidth);
  Object.assign(p.c,{xt:fXTicks,yt:fYTicks,ypad:5.5,xl:"RMSE (ms)",xlx:552,xly:881,
    yl:["Number of datasets"],ylx:[391],yly:[745.5],cap:"(f)",capx:528,capy:906});
  finish(p);
}
</script>
</body></html>
